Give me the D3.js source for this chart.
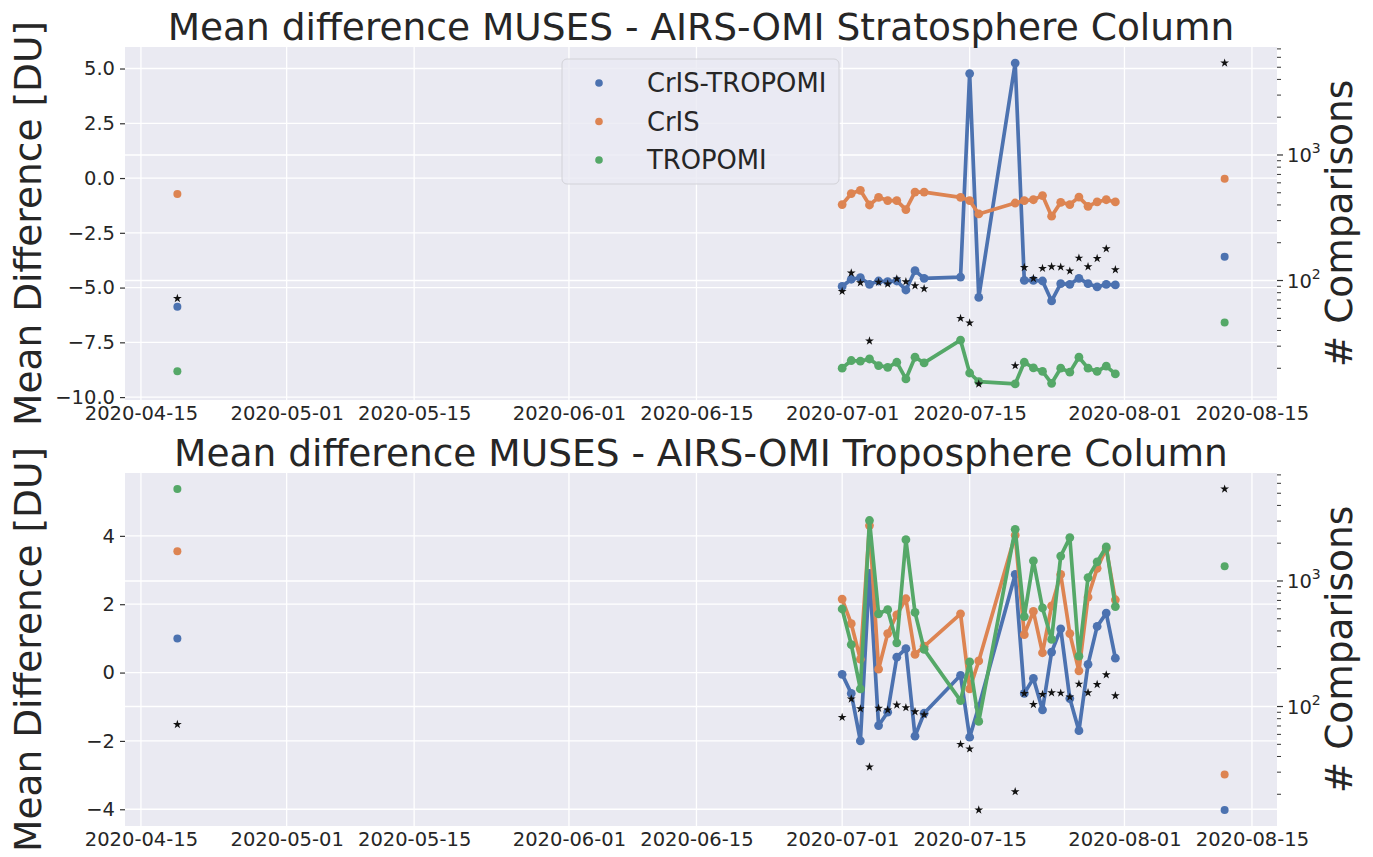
<!DOCTYPE html>
<html>
<head>
<meta charset="utf-8">
<script src="https://cdn.jsdelivr.net/npm/d3@7"></script>
<style>
  html, body { margin: 0; padding: 0; background: #fff; }
  svg { display: block; font-family: 'DejaVu Sans', sans-serif; }
</style>
</head>
<body>
<div id="chart"></div>
<script>
// daily comparison dates (lines)
const dates = [
  '2020-07-01', '2020-07-02', '2020-07-03', '2020-07-04', '2020-07-05',
  '2020-07-06', '2020-07-07', '2020-07-08', '2020-07-09', '2020-07-10',
  '2020-07-14', '2020-07-15', '2020-07-16', '2020-07-20', '2020-07-21',
  '2020-07-22', '2020-07-23', '2020-07-24', '2020-07-25', '2020-07-26',
  '2020-07-27', '2020-07-28', '2020-07-29', '2020-07-30', '2020-07-31'
]
// the two lone summary points
const summaryDates = ['2020-04-19', '2020-08-12']

const xTicks = ['2020-04-15', '2020-05-01', '2020-05-15', '2020-06-01', '2020-06-15',
  '2020-07-01', '2020-07-15', '2020-08-01', '2020-08-15']

const seriesNames = ['CrIS-TROPOMI', 'CrIS', 'TROPOMI']

// Stratosphere column
const stratCrisTropomi = [-4.95, -4.62, -4.55, -4.85, -4.70, -4.73, -4.70, -5.11, -4.23, -4.58,
  -4.52, 4.77, -5.45, 5.25, -4.67, -4.67, -4.70, -5.61, -4.82, -4.85, -4.58, -4.82, -4.97, -4.85, -4.88]
const stratCris = [-1.21, -0.71, -0.56, -1.23, -0.88, -1.03, -1.03, -1.44, -0.64, -0.64,
  -0.88, -1.03, -1.64, -1.14, -1.03, -0.99, -0.80, -1.74, -1.11, -1.21, -0.87, -1.29, -1.09, -0.99, -1.09]
const stratTropomi = [-8.68, -8.33, -8.36, -8.26, -8.56, -8.64, -8.41, -9.17, -8.18, -8.44,
  -7.40, -8.90, -9.29, -9.40, -8.41, -8.67, -8.83, -9.37, -8.68, -8.86, -8.18, -8.68, -8.83, -8.59, -8.94]
const stratSummary = [[-5.88, -3.59], [-0.73, -0.03], [-8.82, -6.59]]

// Troposphere column
const tropCrisTropomi = [-0.05, -0.61, -2.00, 2.90, -1.55, -1.16, 0.45, 0.70, -1.86, -1.19,
  -0.08, -1.89, -1.00, 2.87, -0.61, -0.17, -1.09, 0.60, 1.28, -0.76, -1.70, 0.24, 1.35, 1.74, 0.42]
const tropCris = [2.15, 1.43, 0.39, 4.30, 0.10, 1.14, 1.69, 2.16, 0.53, 0.77,
  1.72, -0.48, 0.34, 4.02, 1.11, 1.79, 0.58, 1.95, 2.87, 1.14, 0.05, 2.21, 3.05, 3.63, 2.13]
const tropTropomi = [1.86, 0.82, -0.48, 4.45, 1.72, 1.84, 0.87, 3.89, 1.76, 0.68,
  -0.82, 0.31, -1.43, 4.19, 1.64, 3.27, 1.89, 0.97, 3.41, 3.95, 0.48, 2.78, 3.24, 3.68, 1.93]
const tropSummary = [[1.00, -4.02], [3.55, -2.98], [5.37, 3.11]]

// number of comparisons (right log axis)
const comparisons = [82, 115, 96, 33, 97, 94, 103, 98, 91, 86,
  50, 46, 15, 21, 127, 104, 125, 129, 128, 119, 151, 129, 150, 179, 122]
const summaryComparisons = [72, 5400]

const width = 1373
const height = 857
const colors = ['#4C72B0', '#DD8452', '#55A868']
const plotLeft = 125
const plotRight = 1277

const parse = d3.utcParse('%Y-%m-%d')
const dateVals = dates.map(parse)
const summaryVals = summaryDates.map(parse)

const svg = d3.select('#chart').append('svg')
  .attr('width', width)
  .attr('height', height)

// matplotlib style 5% margins
const pad = ext => {
  const r = ext[1] - ext[0]
  return [ext[0] - 0.05 * r, ext[1] + 0.05 * r]
}

const allDates = dateVals.concat(summaryVals)
const xExt = pad(d3.extent(allDates, d => +d))
const x = d3.scaleUtc()
  .domain([new Date(xExt[0]), new Date(xExt[1])])
  .range([plotLeft, plotRight])

const allCounts = comparisons.concat(summaryComparisons)
const logExt = pad(d3.extent(allCounts, d => Math.log10(d)))

function panel(opts) {
  const { top, bottom, title, lines, summary, yTicks, yFormat } = opts
  const g = svg.append('g')

  const allVals = lines.flat().concat(summary.flat())
  const y = d3.scaleLinear().domain(pad(d3.extent(allVals))).range([bottom, top])
  const y2 = d3.scaleLog().domain([10 ** logExt[0], 10 ** logExt[1]]).range([bottom, top])

  g.append('rect')
    .attr('x', plotLeft)
    .attr('y', top)
    .attr('width', plotRight - plotLeft)
    .attr('height', bottom - top)
    .attr('fill', '#EAEAF2')

  // grid: x dates, left ticks, right major decades
  const grid = g.append('g').attr('stroke', '#fff').attr('stroke-width', 1.3)
  grid.selectAll('.gx').data(xTicks.map(parse)).join('line')
    .attr('x1', d => x(d)).attr('x2', d => x(d))
    .attr('y1', top).attr('y2', bottom)
  grid.selectAll('.gy').data(yTicks).join('line')
    .attr('x1', plotLeft).attr('x2', plotRight)
    .attr('y1', d => y(d)).attr('y2', d => y(d))
  const decades = [10, 100, 1000, 10000].filter(d => y2(d) >= top && y2(d) <= bottom)
  grid.selectAll('.gy2').data(decades).join('line')
    .attr('x1', plotLeft).attr('x2', plotRight)
    .attr('y1', d => y2(d)).attr('y2', d => y2(d))

  // left axis
  const yAxis = g.append('g')
    .attr('transform', `translate(${plotLeft},0)`)
    .call(d3.axisLeft(y).tickValues(yTicks).tickFormat(yFormat).tickSize(5).tickPadding(5))
  yAxis.select('.domain').remove()
  yAxis.selectAll('line').attr('stroke', '#333').attr('stroke-width', 1.2)
  yAxis.selectAll('text').attr('font-size', 19.5).attr('fill', '#262626')
    .attr('font-family', 'DejaVu Sans')

  // x axis labels
  const xAxis = g.append('g')
    .attr('transform', `translate(0,${bottom})`)
    .call(d3.axisBottom(x).tickValues(xTicks.map(parse)).tickFormat(d3.utcFormat('%Y-%m-%d')).tickSize(0).tickPadding(6))
  xAxis.select('.domain').remove()
  xAxis.selectAll('text').attr('font-size', 19.5).attr('fill', '#262626')
    .attr('font-family', 'DejaVu Sans')

  // right log axis ticks
  const [lo, hi] = y2.domain()
  const minor = []
  for (const dec of [1, 10, 100, 1000, 10000]) {
    for (let m = 2; m <= 9; m++) {
      const v = dec * m
      if (v > lo && v < hi) minor.push(v)
    }
  }
  const r = g.append('g').attr('stroke', '#333')
  r.selectAll('.mn').data(minor).join('line')
    .attr('x1', plotRight).attr('x2', plotRight + 4)
    .attr('y1', d => y2(d)).attr('y2', d => y2(d))
    .attr('stroke-width', 1)
  r.selectAll('.mj').data(decades).join('line')
    .attr('x1', plotRight).attr('x2', plotRight + 6)
    .attr('y1', d => y2(d)).attr('y2', d => y2(d))
    .attr('stroke-width', 1.2)
  const lab = g.append('g').selectAll('text').data(decades).join('text')
    .attr('x', plotRight + 10)
    .attr('y', d => y2(d) + 7)
    .attr('font-size', 19.5)
    .attr('fill', '#262626')
  lab.append('tspan').text('10')
  lab.append('tspan').attr('dy', -9).attr('font-size', 14).text(d => Math.round(Math.log10(d)))

  // lines with markers
  const line = d3.line().x((d, i) => x(dateVals[i])).y(d => y(d))
  lines.forEach((vals, k) => {
    g.append('path')
      .datum(vals)
      .attr('fill', 'none')
      .attr('stroke', colors[k])
      .attr('stroke-width', 3.7)
      .attr('stroke-linejoin', 'round')
      .attr('d', line)
    g.append('g').selectAll('circle').data(vals).join('circle')
      .attr('cx', (d, i) => x(dateVals[i]))
      .attr('cy', d => y(d))
      .attr('r', 4.4)
      .attr('fill', colors[k])
  })

  // summary scatter points
  summary.forEach((vals, k) => {
    g.append('g').selectAll('circle').data(vals).join('circle')
      .attr('cx', (d, i) => x(summaryVals[i]))
      .attr('cy', d => y(d))
      .attr('r', 4)
      .attr('fill', colors[k])
  })

  // comparison counts as stars on the twin axis
  const star = d3.symbol().type(d3.symbolStar).size(24)
  g.append('g').selectAll('path')
    .data(comparisons.map((c, i) => [dateVals[i], c]).concat(summaryComparisons.map((c, i) => [summaryVals[i], c])))
    .join('path')
    .attr('transform', d => `translate(${x(d[0])},${y2(d[1])})`)
    .attr('d', star)
    .attr('fill', '#111')

  // titles and axis labels
  g.append('text')
    .attr('x', (plotLeft + plotRight) / 2)
    .attr('y', top - 7)
    .attr('text-anchor', 'middle')
    .attr('font-size', 37.5)
    .attr('fill', '#262626')
    .text(title)
  g.append('text')
    .attr('transform', `translate(41,${(top + bottom) / 2}) rotate(-90)`)
    .attr('text-anchor', 'middle')
    .attr('font-size', 37.5)
    .attr('fill', '#262626')
    .text('Mean Difference [DU]')
  g.append('text')
    .attr('transform', `translate(1352,${(top + bottom) / 2}) rotate(-90)`)
    .attr('text-anchor', 'middle')
    .attr('font-size', 37.5)
    .attr('fill', '#262626')
    .text('# Comparisons')

  return g
}

const topPanel = panel({
  top: 47,
  bottom: 400,
  title: 'Mean difference MUSES - AIRS-OMI Stratosphere Column',
  lines: [stratCrisTropomi, stratCris, stratTropomi],
  summary: stratSummary,
  yTicks: [-10, -7.5, -5, -2.5, 0, 2.5, 5],
  yFormat: d3.format('.1f')
})

panel({
  top: 473,
  bottom: 826,
  title: 'Mean difference MUSES - AIRS-OMI Troposphere Column',
  lines: [tropCrisTropomi, tropCris, tropTropomi],
  summary: tropSummary,
  yTicks: [-4, -2, 0, 2, 4],
  yFormat: d3.format('d')
})

// legend in the upper panel
const legend = topPanel.append('g').attr('transform', 'translate(562,59)')
legend.append('rect')
  .attr('width', 277)
  .attr('height', 125)
  .attr('rx', 5)
  .attr('fill', '#EAEAF2')
  .attr('fill-opacity', 0.8)
  .attr('stroke', '#d2d2d8')
  .attr('stroke-width', 1)
const item = legend.selectAll('.item').data(seriesNames).join('g')
  .attr('transform', (d, i) => `translate(0,${24 + i * 38.5})`)
item.append('circle').attr('cx', 37).attr('r', 3.8).attr('fill', (d, i) => colors[i])
item.append('text')
  .attr('x', 85)
  .attr('y', 9)
  .attr('font-size', 25.8)
  .attr('fill', '#262626')
  .text(d => d)
</script>
</body>
</html>
